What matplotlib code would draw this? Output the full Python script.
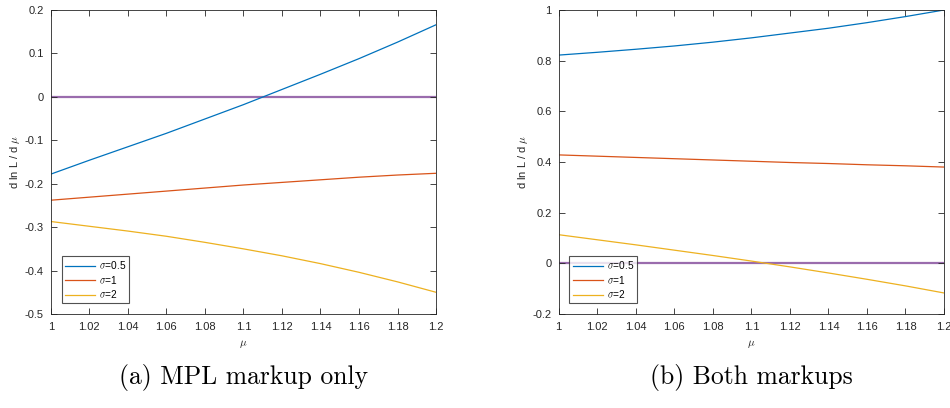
import numpy as np
import matplotlib.pyplot as plt

mu = [1.00, 1.02, 1.04, 1.06, 1.08, 1.10, 1.12, 1.14, 1.16, 1.18, 1.20]
labels = [r'$\sigma$=0.5', r'$\sigma$=1', r'$\sigma$=2']

# (a) MPL markup only
a_s05 = [-0.178, -0.146, -0.115, -0.084, -0.051, -0.018, 0.017, 0.052, 0.088, 0.126, 0.166]
a_s1 = [-0.238, -0.231, -0.224, -0.217, -0.210, -0.203, -0.197, -0.191, -0.185, -0.180, -0.176]
a_s2 = [-0.287, -0.298, -0.309, -0.321, -0.335, -0.350, -0.366, -0.384, -0.404, -0.426, -0.450]

# (b) Both markups
b_s05 = [0.822, 0.833, 0.845, 0.858, 0.873, 0.890, 0.909, 0.928, 0.950, 0.974, 1.000]
b_s1 = [0.428, 0.423, 0.418, 0.413, 0.408, 0.403, 0.398, 0.394, 0.389, 0.385, 0.380]
b_s2 = [0.113, 0.093, 0.073, 0.052, 0.031, 0.009, -0.014, -0.038, -0.063, -0.089, -0.117]

colors = ['#0072BD', '#D95319', '#EDB120']
zero_color = '#9a6cad'
axis_color = '#262626'

plt.rcParams['font.family'] = ['Liberation Sans', 'DejaVu Sans']
plt.rcParams['mathtext.fontset'] = 'cm'

fig = plt.figure(figsize=(9.5, 4.08), dpi=100)
ax1 = fig.add_axes([0.0534, 0.2304, 0.4056, 0.7451])
ax2 = fig.add_axes([0.5881, 0.2304, 0.4056, 0.7451])


def draw_panel(ax, series, ylim, yticks, ytlabels, caption):
    for vals, c, lab in zip(series, colors, labels):
        ax.plot(mu, vals, color=c, lw=0.9, label=lab)
    ax.plot([mu[0], mu[-1]], [0, 0], color=zero_color, lw=1.6, zorder=1)
    ax.set_xlim(1.0, 1.2)
    ax.set_ylim(*ylim)
    ax.set_xticks(mu)
    ax.set_xticklabels(['1', '1.02', '1.04', '1.06', '1.08', '1.1', '1.12', '1.14', '1.16', '1.18', '1.2'])
    ax.set_yticks(yticks)
    ax.set_yticklabels(ytlabels)
    ax.tick_params(direction='in', top=True, right=True, length=4, width=0.6,
                   labelsize=8, colors=axis_color)
    ax.tick_params(axis='x', pad=6)
    ax.tick_params(axis='y', pad=5)
    for sp in ax.spines.values():
        sp.set_color(axis_color)
        sp.set_linewidth(0.6)
    ax.set_xlabel(r'$\mu$', fontsize=8, color=axis_color, labelpad=4)
    ax.set_ylabel(r'd ln L / d $\mu$', fontsize=8, color=axis_color, labelpad=2)
    leg = ax.legend(loc='lower left', bbox_to_anchor=(0.028, 0.035), fontsize=7.3,
                    frameon=True, fancybox=False, edgecolor=axis_color,
                    handlelength=3.0, handletextpad=0.4, borderpad=0.3,
                    labelspacing=0.25, borderaxespad=0)
    leg.get_frame().set_linewidth(0.8)
    ax.text(0.5, -0.165, caption, transform=ax.transAxes, ha='center', va='top',
            fontsize=18.5, family='cmr10')


draw_panel(ax1, [a_s05, a_s1, a_s2], (-0.5, 0.2),
           [-0.5, -0.4, -0.3, -0.2, -0.1, 0, 0.1, 0.2],
           ['-0.5', '-0.4', '-0.3', '-0.2', '-0.1', '0', '0.1', '0.2'],
           '(a) MPL markup only')
draw_panel(ax2, [b_s05, b_s1, b_s2], (-0.2, 1.0),
           [-0.2, 0, 0.2, 0.4, 0.6, 0.8, 1.0],
           ['-0.2', '0', '0.2', '0.4', '0.6', '0.8', '1'],
           '(b) Both markups')

fig.savefig('out.png', dpi=100)
